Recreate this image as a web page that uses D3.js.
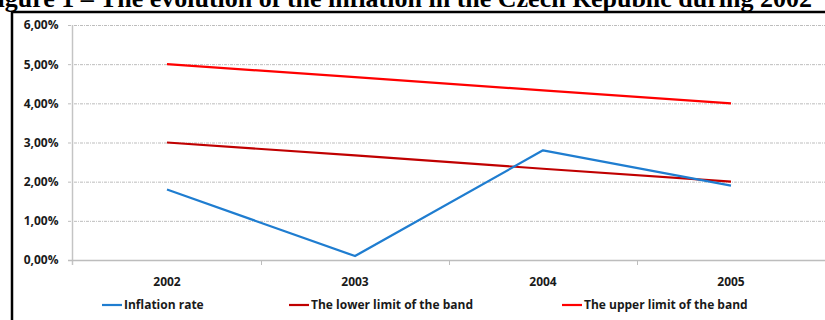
<!DOCTYPE html>
<html>
<head>
<meta charset="utf-8">
<script src="https://cdn.jsdelivr.net/npm/d3@7"></script>
<style>
  body { margin: 0; background: white; }
  svg { display: block; }
</style>
</head>
<body>
<svg id="chart" width="825" height="320"></svg>
<script>
const years = ["2002", "2003", "2004", "2005"];
const inflationRate = [1.8, 0.1, 2.8, 1.9];
const lowerLimit = [3.0, 2.67, 2.33, 2.0];
const upperLimit = [5.0, 4.67, 4.33, 4.0];
const yTicks = [0, 1, 2, 3, 4, 5, 6];
const seriesNames = ["Inflation rate", "The lower limit of the band", "The upper limit of the band"];
const titleText = "Figure 1 \u2013 The evolution of the inflation in the Czech Republic during 2002";

const width = 825;
const height = 320;
const plot = {left: 73, right: 825, top: 25, bottom: 260};
const colors = ["#1f7dd0", "#c00000", "#ff0000"];
const labelFont = "'Open Sans', sans-serif";

const svg = d3.select("#chart");

svg.append("rect")
    .attr("width", width)
    .attr("height", height)
    .attr("fill", "white");

// title, cut off by the top of the picture
svg.append("text")
    .attr("x", 812)
    .attr("y", 7)
    .attr("text-anchor", "end")
    .attr("font-family", "'Liberation Serif', 'Times New Roman', serif")
    .attr("font-weight", "bold")
    .attr("font-size", "26px")
    .attr("fill", "black")
    .text(titleText);

// frame
svg.append("path")
    .attr("d", "M12,320 L12,12 L825,12")
    .attr("fill", "none")
    .attr("stroke", "black")
    .attr("stroke-width", 2.5);

let xScale = d3.scaleBand().domain(years).range([plot.left, plot.right]);
let yScale = d3.scaleLinear().domain([0, 6]).range([plot.bottom, plot.top]);

// gridlines
svg.append("g")
  .selectAll("line")
  .data(yTicks.filter(d => d > 0))
  .enter().append("line")
    .attr("x1", plot.left - 5)
    .attr("x2", plot.right)
    .attr("y1", d => yScale(d) + 0.5)
    .attr("y2", d => yScale(d) + 0.5)
    .attr("stroke", "#bdbdbd")
    .attr("stroke-width", 1)
    .attr("stroke-dasharray", "3,1,1,1");

// y axis
const yAxis = svg.append("g")
    .attr("transform", "translate(" + (plot.left - 0.5) + ",0)")
    .call(d3.axisLeft(yScale).tickValues(yTicks).tickSize(0).tickPadding(14)
      .tickFormat(d => d3.format(".2f")(d).replace(".", ",") + "%"));
yAxis.select(".domain").remove();
yAxis.selectAll("text")
    .attr("font-family", labelFont)
    .attr("font-weight", "bold")
    .attr("font-size", "12px")
    .attr("fill", "#1a1a1a");

svg.append("line")
    .attr("x1", plot.left - 0.5)
    .attr("x2", plot.left - 0.5)
    .attr("y1", plot.top)
    .attr("y2", plot.bottom + 5)
    .attr("stroke", "#c4c4c4")
    .attr("stroke-width", 1.5);

// x axis
svg.append("line")
    .attr("x1", plot.left - 5)
    .attr("x2", plot.right)
    .attr("y1", plot.bottom + 0.5)
    .attr("y2", plot.bottom + 0.5)
    .attr("stroke", "#bdbdbd")
    .attr("stroke-width", 1.5);

svg.append("g")
  .selectAll("line")
  .data(years.slice(1))
  .enter().append("line")
    .attr("x1", d => Math.round(xScale(d)) + 0.5)
    .attr("x2", d => Math.round(xScale(d)) + 0.5)
    .attr("y1", plot.bottom)
    .attr("y2", plot.bottom + 5)
    .attr("stroke", "#bdbdbd")
    .attr("stroke-width", 1);

svg.append("g")
  .selectAll("text")
  .data(years)
  .enter().append("text")
    .attr("x", d => xScale(d) + xScale.bandwidth() / 2)
    .attr("y", plot.bottom + 26)
    .attr("text-anchor", "middle")
    .attr("font-family", labelFont)
    .attr("font-weight", "bold")
    .attr("font-size", "12px")
    .attr("fill", "#1a1a1a")
    .text(d => d);

// lines
const series = [inflationRate, lowerLimit, upperLimit];
const line = d3.line()
    .x((d, i) => xScale(years[i]) + xScale.bandwidth() / 2)
    .y(d => yScale(d));

// draw upper first so blue sits on top
[2, 1, 0].forEach(function(k) {
  svg.append("path")
      .datum(series[k])
      .attr("d", line)
      .attr("fill", "none")
      .attr("stroke", colors[k])
      .attr("stroke-width", 2.2)
      .attr("stroke-linejoin", "round");
});

// legend
const legendX = [102, 289, 562];
const legendY = 305;
const legend = svg.append("g");
seriesNames.forEach(function(name, i) {
  legend.append("line")
      .attr("x1", legendX[i])
      .attr("x2", legendX[i] + 20)
      .attr("y1", legendY)
      .attr("y2", legendY)
      .attr("stroke", colors[i])
      .attr("stroke-width", 2.2);
  legend.append("text")
      .attr("x", legendX[i] + 22)
      .attr("y", legendY + 4)
      .attr("font-family", labelFont)
      .attr("font-weight", "bold")
      .attr("font-size", "12px")
      .attr("fill", "#1a1a1a")
      .text(name);
});
</script>
</body>
</html>
